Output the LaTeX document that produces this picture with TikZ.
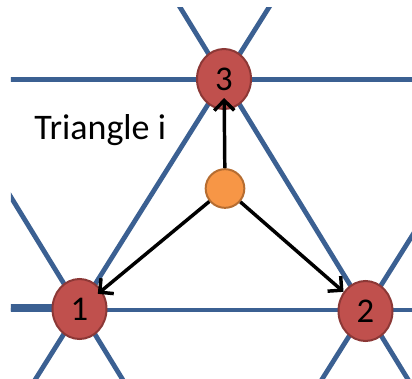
\documentclass[tikz,border=0pt]{standalone}
\usepackage{fontspec}
\setmainfont{Carlito}
\usetikzlibrary{arrows.meta,shapes.geometric}
\definecolor{latblue}{RGB}{59,96,146}
\definecolor{ptred}{RGB}{192,80,77}
\definecolor{ptredline}{RGB}{140,56,54}
\definecolor{ctrorange}{RGB}{247,150,70}
\definecolor{ctrorangeline}{RGB}{182,109,49}
\begin{document}
\begin{tikzpicture}[x=0.75pt,y=0.75pt,yscale=-1,xscale=1,
  latline/.style={draw=latblue,line width=3.6pt},
  vertex/.style={ellipse,draw=ptredline,fill=ptred,line width=1.5pt,minimum width=40.5pt,minimum height=45pt,inner sep=0pt,font=\fontsize{26}{26}\selectfont},
  centre/.style={circle,draw=ctrorangeline,fill=ctrorange,line width=1.5pt,minimum size=29pt,inner sep=0pt},
  arr/.style={-{Straight Barb[length=7.5pt,width=15pt]},line width=2.6pt,black}]
\useasboundingbox (0,0) rectangle (412,379);

\begin{scope}
\clip (11,7) rectangle (412,379);
%Straight Lines: horizontal
\draw [latline,line width=3.9pt] (0,79.5) -- (420,79.5) ;
\draw [latline,line width=2.7pt] (0,310) -- (420,310) ;
\draw [latline,line width=5pt] (0,307.5) -- (79.5,307.5) ;
%Straight Lines: through 1 and 3
\draw [latline] (273.6,0) -- (22.4,400) ;
%Straight Lines: through 2 and 3
\draw [latline] (175.6,0) -- (420.6,400) ;
%Straight Lines: neighbours
\draw [latline] (-109.8,0) -- (135.2,400) ;
\draw [latline] (560.2,0) -- (309,400) ;
\end{scope}

% Points
\node [vertex] (n1) at (79.5,309) {1};
\node [vertex] (n2) at (365.5,311) {2};
\node [vertex] (n3) at (224,79) {3};
\node [centre] (c) at (225,188.5) {};

% Arrows
\draw [arr,shorten >=-9pt] (c) -- (n3) ;
\draw [arr,shorten >=-4pt] (c) -- (n1) ;
\draw [arr] (c) -- (n2) ;

% Text Node
\node [anchor=base west,inner sep=0pt,font=\fontsize{27}{27}\selectfont] (lbl) at (34,139) {Triangle i};

\end{tikzpicture}
\end{document}
